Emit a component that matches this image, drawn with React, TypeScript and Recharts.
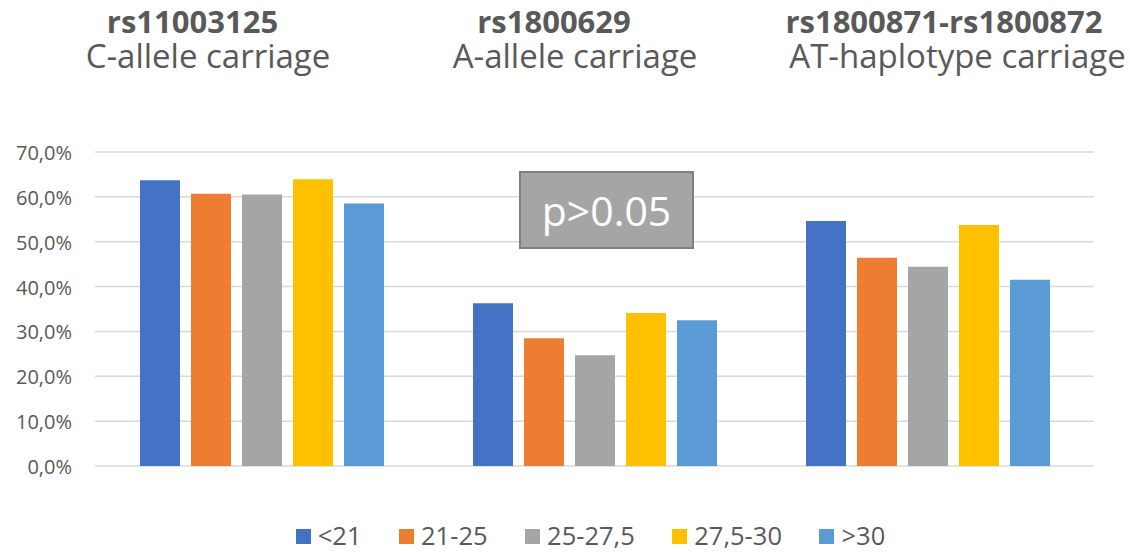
import React from 'react';
import { BarChart, Bar, XAxis, YAxis, CartesianGrid } from 'recharts';

const categories = ['rs11003125', 'rs1800629', 'rs1800871-rs1800872'];
const subtitles = ['C-allele carriage', 'A-allele carriage', 'AT-haplotype carriage'];
const seriesNames = ['<21', '21-25', '25-27,5', '27,5-30', '>30'];
const seriesColors = ['#4472C4', '#ED7D31', '#A5A5A5', '#FFC000', '#5B9BD5'];
const bmiUnder21 = [63.7, 36.3, 54.6];
const bmi21to25 = [60.7, 28.5, 46.4];
const bmi25to275 = [60.5, 24.7, 44.4];
const bmi275to30 = [63.9, 34.1, 53.7];
const bmiOver30 = [58.5, 32.5, 41.5];
const yTicks = [0, 10, 20, 30, 40, 50, 60, 70];
const pValueText = 'p>0.05';

const seriesValues = [bmiUnder21, bmi21to25, bmi25to275, bmi275to30, bmiOver30];
const data = categories.map((c, i) => {
  const row: Record<string, string | number> = { name: c };
  seriesNames.forEach((s, j) => {
    row[s] = seriesValues[j][i];
  });
  return row;
});

const FONT = "'Open Sans', sans-serif";
const TEXT = '#595959';
const titleX = [192.5, 554, 944];
const subX = [208, 575, 957.5];

const fmt = (v: number) => v.toFixed(1).replace('.', ',') + '%';

const YTick = (props: any) => {
  const { x, y, payload } = props;
  return (
    <text x={x} y={y} dy={8} textAnchor="end" fill={TEXT} fontSize={20} fontFamily={FONT}>
      {fmt(payload.value)}
    </text>
  );
};

export default function App() {
  return (
    <div style={{ position: 'absolute', left: 0, top: 0, width: 1130, height: 552, background: '#fff', fontFamily: FONT, overflow: 'hidden' }}>
      <BarChart
        width={1130}
        height={552}
        data={data}
        margin={{ top: 152, right: 36, bottom: 86, left: 0 }}
        barSize={40}
        barGap={11}
      >
        <CartesianGrid vertical={false} stroke="#D9D9D9" strokeWidth={1.5} />
        <XAxis dataKey="name" hide />
        <YAxis
          width={95}
          domain={[0, 70]}
          ticks={yTicks}
          tickFormatter={fmt}
          axisLine={false}
          tickLine={false}
          tickSize={0}
          tickMargin={23}
          tick={<YTick />}
          interval={0}
        />
        {seriesNames.map((s, j) => (
          <Bar key={s} dataKey={s} fill={seriesColors[j]} isAnimationActive={false} />
        ))}
      </BarChart>
      <svg width={1130} height={552} style={{ position: 'absolute', left: 0, top: 0, pointerEvents: 'none' }}>
        {categories.map((c, i) => (
          <text key={c} textAnchor="middle" fontFamily={FONT} fill={TEXT}>
            <tspan x={titleX[i]} y={33} fontWeight={700} fontSize={31}>
              {c}
            </tspan>
            <tspan x={subX[i]} y={68} fontWeight={400} fontSize={33}>
              {subtitles[i]}
            </tspan>
          </text>
        ))}
      </svg>
      <div
        style={{
          position: 'absolute',
          left: 519,
          top: 171,
          width: 175,
          height: 78,
          boxSizing: 'border-box',
          background: '#A5A5A5',
          border: '2px solid #7F7F7F',
          color: '#fff',
          fontSize: 41,
          display: 'flex',
          alignItems: 'center',
          justifyContent: 'center',
        }}
      >
        {pValueText}
      </div>
      <div
        style={{
          position: 'absolute',
          left: 91,
          width: 999,
          top: 519.5,
          height: 30,
          display: 'flex',
          justifyContent: 'center',
          alignItems: 'center',
          gap: 37.5,
          fontSize: 25.5,
          lineHeight: '30px',
          color: TEXT,
        }}
      >
        {seriesNames.map((s, j) => (
          <div key={s} style={{ display: 'flex', alignItems: 'center', whiteSpace: 'nowrap' }}>
            <span style={{ display: 'inline-block', width: 15, height: 15, background: seriesColors[j], marginRight: 7, marginTop: 3 }} />
            <span>{s}</span>
          </div>
        ))}
      </div>
    </div>
  );
}
